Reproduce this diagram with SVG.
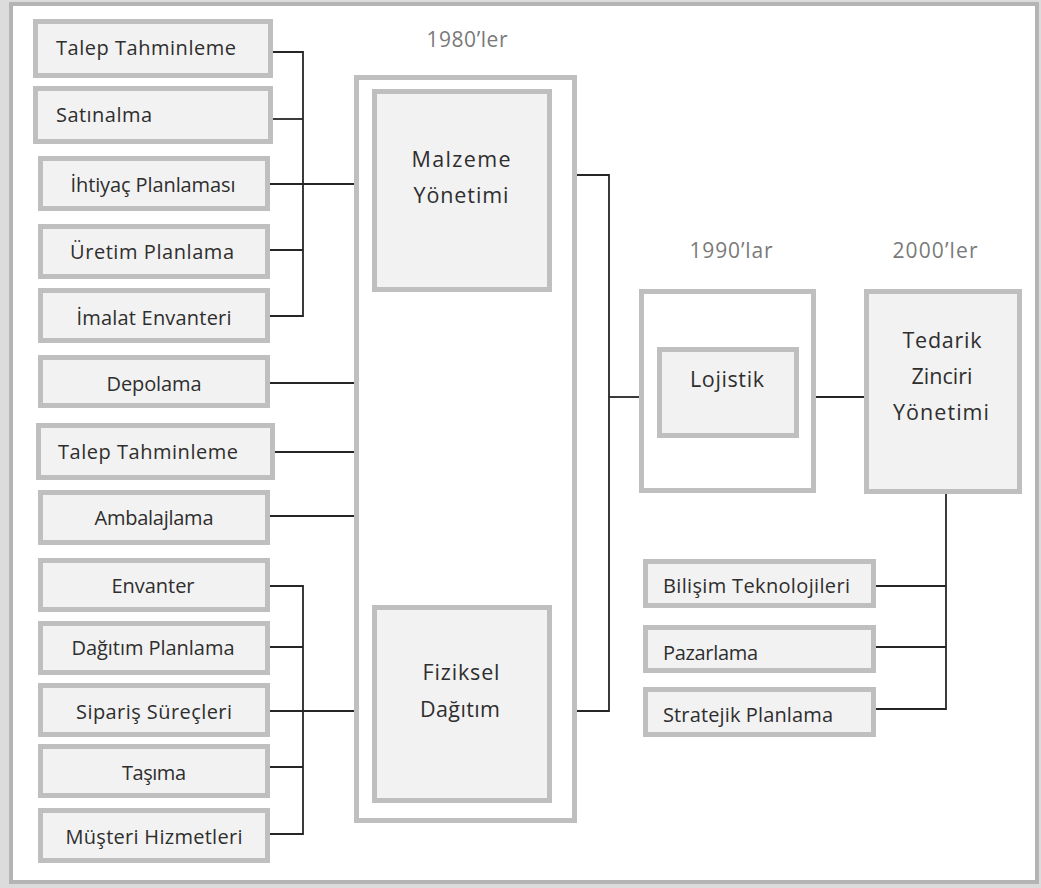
<svg xmlns="http://www.w3.org/2000/svg" width="1041" height="888" viewBox="0 0 1041 888">
<style>
.box{fill:#f2f2f2;stroke:#bfbfbf;stroke-width:5}
.frame{fill:#ffffff;stroke:#bfbfbf;stroke-width:5}
.t{font-family:"Open Sans","Liberation Sans",sans-serif;font-size:20px;fill:#2e2e2e}
.big{font-family:"Open Sans","Liberation Sans",sans-serif;font-size:21.5px;fill:#2e2e2e;text-anchor:middle}
.era{font-family:"Open Sans","Liberation Sans",sans-serif;font-size:21px;fill:#7a7a7a;text-anchor:middle}
.c{text-anchor:middle}
.ln{fill:none;stroke:#262626;stroke-width:1.8}
</style>
<rect x="0" y="0" width="1041" height="888" fill="#dcdcdc"/>
<rect x="11" y="4" width="1026" height="878" fill="#ffffff" stroke="#b4b4b4" stroke-width="4"/>

<g id="connectors">
<polyline class="ln" points="273,52 303,52 303,316 270,316"/>
<line class="ln" x1="273" y1="119" x2="303" y2="119"/>
<line class="ln" x1="270" y1="250" x2="303" y2="250"/>
<line class="ln" x1="270" y1="184" x2="355" y2="184"/>
<line class="ln" x1="270" y1="383" x2="355" y2="383"/>
<line class="ln" x1="275" y1="452" x2="355" y2="452"/>
<line class="ln" x1="270" y1="516" x2="355" y2="516"/>
<polyline class="ln" points="270,586 303,586 303,834 270,834"/>
<line class="ln" x1="270" y1="647" x2="303" y2="647"/>
<line class="ln" x1="270" y1="767" x2="303" y2="767"/>
<line class="ln" x1="270" y1="711" x2="355" y2="711"/>
<polyline class="ln" points="577,175 609,175 609,711 577,711"/>
<line class="ln" x1="609" y1="397" x2="639" y2="397"/>
<line class="ln" x1="816" y1="397" x2="864" y2="397"/>
<line class="ln" x1="946" y1="494" x2="946" y2="710"/>
<line class="ln" x1="876" y1="586" x2="946" y2="586"/>
<line class="ln" x1="876" y1="647" x2="946" y2="647"/>
<line class="ln" x1="876" y1="709" x2="946" y2="709"/>
</g>

<g id="n-talep1"><rect class="box" x="35.5" y="21.5" width="235" height="54"/><text class="t" x="56" y="55" textLength="180">Talep Tahminleme</text></g>
<g id="n-satinalma"><rect class="box" x="35.5" y="88.5" width="235" height="53"/><text class="t" x="56" y="122" textLength="96">Satınalma</text></g>
<g id="n-ihtiyac"><rect class="box" x="40.5" y="158.5" width="227" height="50"/><text class="t c" x="153" y="192" textLength="165">İhtiyaç Planlaması</text></g>
<g id="n-uretim"><rect class="box" x="40.5" y="226.5" width="227" height="50"/><text class="t c" x="152" y="259" textLength="164">Üretim Planlama</text></g>
<g id="n-imalat"><rect class="box" x="40.5" y="290.5" width="227" height="50"/><text class="t c" x="154" y="325" textLength="155">İmalat Envanteri</text></g>
<g id="n-depolama"><rect class="box" x="40.5" y="357.5" width="227" height="48"/><text class="t c" x="154" y="391" textLength="95">Depolama</text></g>
<g id="n-talep2"><rect class="box" x="38.5" y="425.5" width="234" height="52"/><text class="t" x="58" y="459" textLength="180">Talep Tahminleme</text></g>
<g id="n-ambalaj"><rect class="box" x="40.5" y="492.5" width="227" height="50"/><text class="t c" x="154" y="525" textLength="119">Ambalajlama</text></g>
<g id="n-envanter"><rect class="box" x="40.5" y="560.5" width="227" height="49"/><text class="t c" x="153" y="593" textLength="83">Envanter</text></g>
<g id="n-dagitimp"><rect class="box" x="40.5" y="623.5" width="227" height="49"/><text class="t c" x="153" y="655" textLength="163">Dağıtım  Planlama</text></g>
<g id="n-siparis"><rect class="box" x="40.5" y="685.5" width="227" height="49"/><text class="t c" x="154" y="719" textLength="156">Sipariş Süreçleri</text></g>
<g id="n-tasima"><rect class="box" x="40.5" y="746.5" width="227" height="49"/><text class="t c" x="154" y="780" textLength="64">Taşıma</text></g>
<g id="n-musteri"><rect class="box" x="40.5" y="810.5" width="227" height="50"/><text class="t c" x="154" y="844" textLength="177">Müşteri Hizmetleri</text></g>

<g id="n-1980"><text class="era" x="467" y="47" textLength="81">1980’ler</text><rect class="frame" x="356.5" y="77.5" width="218" height="743"/></g>
<g id="n-malzeme"><rect class="box" x="374.5" y="91.5" width="175" height="198"/><text class="big" x="461" y="167" textLength="99">Malzeme</text><text class="big" x="461" y="203" textLength="95">Yönetimi</text></g>
<g id="n-fiziksel"><rect class="box" x="374.5" y="607.5" width="175" height="193"/><text class="big" x="461" y="680" textLength="77">Fiziksel</text><text class="big" x="460" y="717" textLength="80">Dağıtım</text></g>

<g id="n-1990"><text class="era" x="731" y="258" textLength="83">1990’lar</text><rect class="frame" x="641.5" y="291.5" width="172" height="199"/></g>
<g id="n-lojistik"><rect class="box" x="659.5" y="349.5" width="137" height="86"/><text class="big" x="727" y="387" textLength="74">Lojistik</text></g>

<g id="n-2000"><text class="era" x="935" y="258" textLength="85">2000’ler</text></g>
<g id="n-tedarik"><rect class="box" x="866.5" y="291.5" width="153" height="200"/><text class="big" x="942" y="348" textLength="79">Tedarik</text><text class="big" x="942" y="384" textLength="61">Zinciri</text><text class="big" x="941" y="420" textLength="96">Yönetimi</text></g>

<g id="n-bilisim"><rect class="box" x="645.5" y="561.5" width="228" height="44"/><text class="t" x="663" y="593" textLength="187">Bilişim Teknolojileri</text></g>
<g id="n-pazarlama"><rect class="box" x="645.5" y="627.5" width="228" height="43"/><text class="t" x="663" y="660" textLength="95">Pazarlama</text></g>
<g id="n-stratejik"><rect class="box" x="645.5" y="689.5" width="228" height="45"/><text class="t" x="663" y="722" textLength="170">Stratejik Planlama</text></g>
</svg>
